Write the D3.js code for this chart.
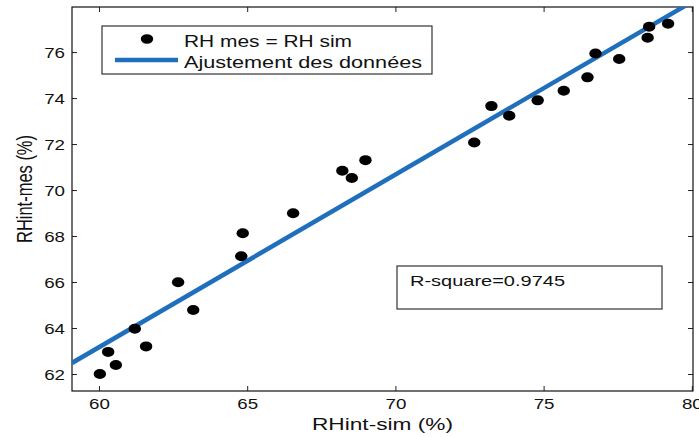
<!DOCTYPE html>
<html>
<head>
<meta charset="utf-8">
<script src="https://cdn.jsdelivr.net/npm/d3@7"></script>
<style>
  html, body { margin: 0; padding: 0; background: #fff; }
  svg { display: block; }
  text { font-family: "Liberation Sans", Arial, sans-serif; fill: #111; }
</style>
</head>
<body>
<svg id="chart" width="699" height="437"></svg>
<script>
// ---- data ----
const simX = [60.03, 60.31, 60.57, 61.21, 61.59, 62.67, 63.18, 64.80, 64.85, 66.55,
              68.21, 68.53, 68.99, 72.66, 73.24, 73.84, 74.80, 75.68, 76.48, 76.75,
              77.55, 78.51, 78.56, 79.20];
const mesY = [62.00, 62.96, 62.39, 63.97, 63.20, 65.99, 64.78, 67.12, 68.12, 68.99,
              70.84, 70.52, 71.30, 72.07, 73.65, 73.23, 73.90, 74.32, 74.90, 75.94,
              75.70, 76.62, 77.10, 77.23];
const fitX = [59.09, 80.04];
const fitY = [62.48, 78.21];
const xTicks = [60, 65, 70, 75, 80];
const yTicks = [62, 64, 66, 68, 70, 72, 74, 76];
const legendLabels = ["RH mes = RH sim", "Ajustement des données"];
const xLabel = "RHint-sim (%)";
const yLabel = "RHint-mes (%)";
const annotation = "R-square=0.9745";

// ---- layout ----
const L = 72, R = 693, T = 7, B = 391;
const svg = d3.select("#chart");
const x = d3.scaleLinear().domain([59.09, 80.04]).range([L, R]);
const y = d3.scaleLinear().domain([61.26, 77.96]).range([B, T]);
const SX = 1.25; // horizontal stretch of the reference text

svg.append("defs").append("clipPath").attr("id", "clip")
  .append("rect").attr("x", L).attr("y", T).attr("width", R - L).attr("height", B - T);

// axes
const gx = svg.append("g").attr("transform", `translate(0,${B})`)
  .call(d3.axisBottom(x).tickValues(xTicks).tickSize(-5).tickFormat(d3.format("d")));
gx.selectAll("text").attr("y", 0).attr("dy", 0)
  .attr("transform", `translate(0,18) scale(${SX},1)`)
  .style("font-size", "15px").attr("font-family", null);

const gy = svg.append("g").attr("transform", `translate(${L},0)`)
  .call(d3.axisLeft(y).tickValues(yTicks).tickSize(-5).tickFormat(d3.format("d")));
gy.selectAll("text").attr("x", 0).attr("dy", "0.36em")
  .attr("transform", `translate(-7,0) scale(${SX},1)`)
  .style("font-size", "15px").attr("font-family", null);

svg.append("g").attr("transform", `translate(0,${T})`)
  .call(d3.axisTop(x).tickValues(xTicks).tickSize(-5).tickFormat(""));
svg.append("g").attr("transform", `translate(${R},0)`)
  .call(d3.axisRight(y).tickValues(yTicks).tickSize(-5).tickFormat(""));
svg.selectAll(".domain").remove();
svg.selectAll(".tick line").attr("stroke", "#222");

// frame
svg.append("rect").attr("x", L).attr("y", T).attr("width", R - L).attr("height", B - T)
  .attr("fill", "none").attr("stroke", "#111").attr("stroke-width", 1.2);

// fit line
const fitData = fitX.map((d, i) => [d, fitY[i]]);
svg.append("path").datum(fitData)
  .attr("clip-path", "url(#clip)")
  .attr("d", d3.line().x(d => x(d[0])).y(d => y(d[1])))
  .attr("fill", "none").attr("stroke", "#1f6fbd").attr("stroke-width", 4.5);

// points
svg.append("g").selectAll("ellipse").data(simX.map((d, i) => [d, mesY[i]]))
  .join("ellipse")
  .attr("cx", d => x(d[0])).attr("cy", d => y(d[1]))
  .attr("rx", 6.2).attr("ry", 5).attr("fill", "#000");

// legend
const lg = svg.append("g");
lg.append("rect").attr("x", 102).attr("y", 26).attr("width", 330).attr("height", 48)
  .attr("fill", "#fff").attr("stroke", "#333").attr("stroke-width", 1.2);
lg.append("ellipse").attr("cx", 147).attr("cy", 39).attr("rx", 6.2).attr("ry", 4.8).attr("fill", "#000");
lg.append("line").attr("x1", 115).attr("x2", 178).attr("y1", 60).attr("y2", 60)
  .attr("stroke", "#1f6fbd").attr("stroke-width", 4.5);
lg.append("text").attr("x", 184).attr("y", 46.5).style("font-size", "16px")
  .attr("textLength", 168).attr("lengthAdjust", "spacingAndGlyphs").text(legendLabels[0]);
lg.append("text").attr("x", 184).attr("y", 68.3).style("font-size", "16px")
  .attr("textLength", 238).attr("lengthAdjust", "spacingAndGlyphs").text(legendLabels[1]);

// annotation box
svg.append("rect").attr("x", 397).attr("y", 266).attr("width", 265).attr("height", 43)
  .attr("fill", "#fff").attr("stroke", "#333").attr("stroke-width", 1.2);
svg.append("text").attr("x", 410).attr("y", 285.5).style("font-size", "14.5px")
  .attr("textLength", 155).attr("lengthAdjust", "spacingAndGlyphs").text(annotation);

// axis titles
svg.append("text").attr("x", 312).attr("y", 430).style("font-size", "16px")
  .attr("textLength", 141).attr("lengthAdjust", "spacingAndGlyphs").text(xLabel);
svg.append("text")
  .attr("transform", `translate(32,189) scale(1.35,1) rotate(-90)`)
  .attr("text-anchor", "middle").style("font-size", "16px")
  .attr("textLength", 108).attr("lengthAdjust", "spacingAndGlyphs").text(yLabel);
</script>
</body>
</html>
